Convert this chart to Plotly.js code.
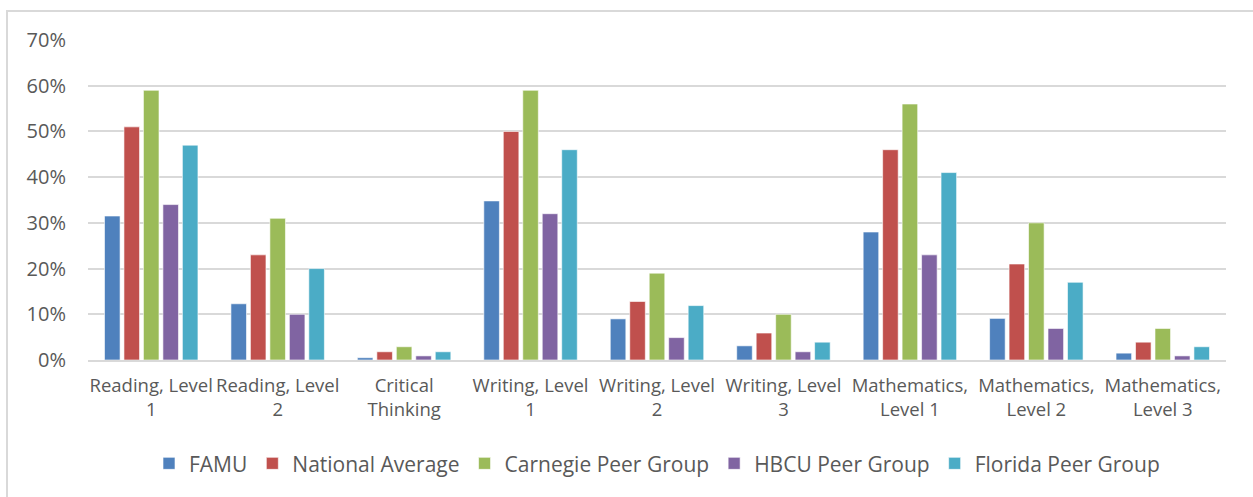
<!DOCTYPE html>
<html>
<head>
<meta charset="utf-8">
<script src="https://cdn.plot.ly/plotly-3.0.1.min.js"></script>
<style>
  html, body { margin: 0; padding: 0; background: #fff; }
  #chart { width: 1253px; height: 497px; position: absolute; left: 0; top: 0; }
  #frame { position: absolute; left: 6px; top: 10px; width: 1247px; height: 487px;
           border-top: 2px solid #D9D9D9; border-left: 2px solid #D9D9D9; box-sizing: border-box; pointer-events: none; }
</style>
</head>
<body>
<div id="chart"></div>
<div id="frame"></div>
<script>
const categories = [
  "Reading, Level<br>1", "Reading, Level<br>2", "Critical<br>Thinking",
  "Writing, Level<br>1", "Writing, Level<br>2", "Writing, Level<br>3",
  "Mathematics,<br>Level 1", "Mathematics,<br>Level 2", "Mathematics,<br>Level 3"
];
const seriesNames = ["FAMU", "National Average", "Carnegie Peer Group", "HBCU Peer Group", "Florida Peer Group"];
const famu     = [0.315, 0.123, 0.005, 0.348, 0.09, 0.031, 0.28, 0.091, 0.015];
const national = [0.51, 0.23, 0.018, 0.50, 0.128, 0.059, 0.46, 0.21, 0.039];
const carnegie = [0.59, 0.31, 0.029, 0.59, 0.19, 0.10, 0.56, 0.30, 0.069];
const hbcu     = [0.34, 0.10, 0.009, 0.32, 0.049, 0.018, 0.23, 0.069, 0.009];
const florida  = [0.47, 0.20, 0.018, 0.46, 0.119, 0.039, 0.41, 0.17, 0.029];
const yTickVals = [0, 0.1, 0.2, 0.3, 0.4, 0.5, 0.6, 0.7];
const yTickText = ["0%", "10%", "20%", "30%", "40%", "50%", "60%", "70%"];

const colors = ["#4F81BD", "#C0504D", "#9BBB59", "#8064A2", "#4BACC6"];
const allValues = [famu, national, carnegie, hbcu, florida];

const data = allValues.map((vals, i) => ({
  type: "bar",
  name: seriesNames[i],
  x: categories,
  y: vals,
  marker: { color: colors[i], line: { color: "rgba(255,255,255,0.6)", width: 1 } },
  hoverinfo: "skip"
}));

const layout = {
  width: 1253, height: 497,
  margin: { l: 88, r: 27, t: 40, b: 137 },
  paper_bgcolor: "rgba(0,0,0,0)",
  plot_bgcolor: "#fff",
  font: { family: "Open Sans, sans-serif", color: "#595959", size: 16 },
  barmode: "group",
  bargap: 0.23,
  bargroupgap: 0.2,
  showlegend: true,
  legend: {
    orientation: "h", x: 0.5, xanchor: "center", y: -0.26, yanchor: "top",
    font: { size: 21, color: "#595959" }, itemwidth: 30, traceorder: "normal"
  },
  xaxis: {
    type: "category", showgrid: false, zeroline: false,
    showline: true, linecolor: "#D9D9D9", linewidth: 2,
    ticks: "", tickfont: { size: 18.5, color: "#595959" }, automargin: false,
    ticklabelstandoff: 8
  },
  yaxis: {
    range: [0, 0.7], tickvals: yTickVals, ticktext: yTickText,
    showgrid: true, gridcolor: "#D9D9D9", gridwidth: 2, zeroline: false,
    showline: false, ticks: "", ticklen: 0, tickfont: { size: 20, color: "#595959" },
    automargin: false, ticklabelstandoff: 21
  }
};

Plotly.newPlot("chart", data, layout, { displayModeBar: false, staticPlot: true });
</script>
</body>
</html>
